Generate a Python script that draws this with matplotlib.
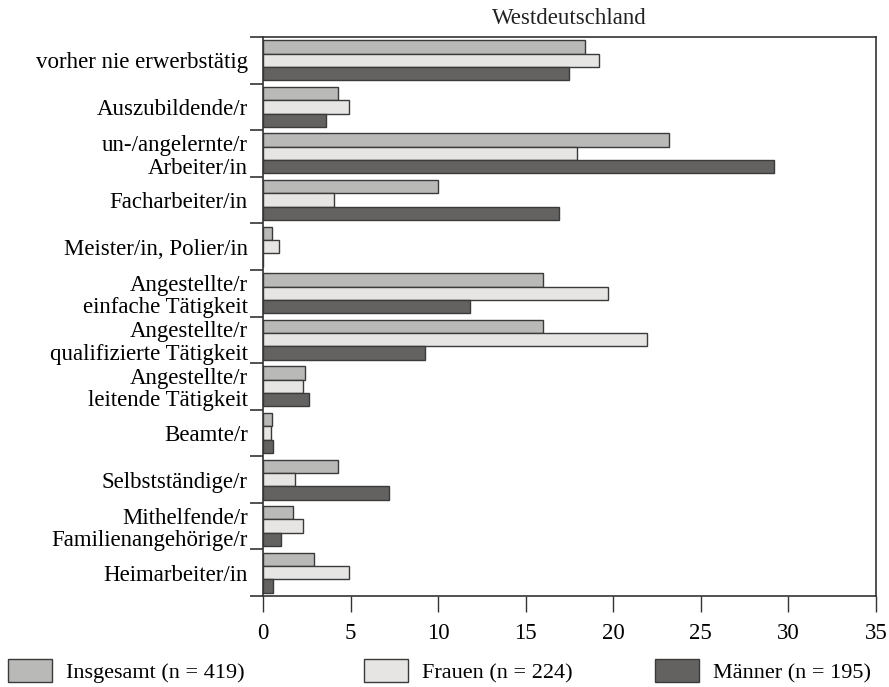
import numpy as np
import matplotlib
matplotlib.use('Agg')
import matplotlib.pyplot as plt
from matplotlib.patches import Patch

plt.rcParams['font.family'] = ['Liberation Serif', 'DejaVu Serif']

categories = [
    'vorher nie erwerbstätig',
    'Auszubildende/r',
    'un-/angelernte/r\nArbeiter/in',
    'Facharbeiter/in',
    'Meister/in, Polier/in',
    'Angestellte/r\neinfache Tätigkeit',
    'Angestellte/r\nqualifizierte Tätigkeit',
    'Angestellte/r\nleitende Tätigkeit',
    'Beamte/r',
    'Selbstständige/r',
    'Mithelfende/r\nFamilienangehörige/r',
    'Heimarbeiter/in',
]
insgesamt = [18.4, 4.3, 23.2, 10.0, 0.5, 16.0, 16.0, 2.4, 0.5, 4.3, 1.7, 2.9]
frauen    = [19.2, 4.9, 17.9, 4.05, 0.9, 19.7, 21.9, 2.3, 0.45, 1.8, 2.3, 4.9]
maenner   = [17.45, 3.6, 29.2, 16.9, 0.0, 11.8, 9.25, 2.6, 0.55, 7.2, 1.05, 0.55]

series = [
    ('Insgesamt (n = 419)', insgesamt, '#b9b9b7'),
    ('Frauen (n = 224)', frauen, '#e6e5e3'),
    ('Männer (n = 195)', maenner, '#646260'),
]

fig = plt.figure(figsize=(8.89, 6.87), dpi=100)
ax = fig.add_axes([263/889, 1 - 596/687, (876 - 263)/889, (596 - 37)/687])

y = np.arange(len(categories))
h = 0.286
for k, (name, vals, col) in enumerate(series):
    ax.barh(y + (k - 1) * h, vals, height=h, color=col,
            edgecolor='#3a3a3a', linewidth=1.0, label=name)

ax.set_ylim(len(categories) - 0.5, -0.5)
ax.set_xlim(0, 35)
ax.set_xticks(np.arange(0, 36, 5))
ax.tick_params(axis='x', direction='out', length=11.5, width=1, color='#333333',
               labelsize=16.5, pad=8)

ax.set_yticks(y)
ax.set_yticklabels(categories, fontsize=16.5, ha='right', multialignment='right',
                   linespacing=1.1)
ax.tick_params(axis='y', which='major', length=0, pad=11)
ax.set_yticks(np.arange(-0.5, len(categories)), minor=True)
ax.tick_params(axis='y', which='minor', direction='out', length=9.4, width=1.2,
               color='#333333')

for s in ax.spines.values():
    s.set_color('#333333')
    s.set_linewidth(1.2)

ax.set_title('Westdeutschland', fontsize=16.5, pad=9, color='#222222')

legend_x = [8/889, 364/889, 655/889]
for (name, vals, col), lx in zip(series, legend_x):
    handle = Patch(facecolor=col, edgecolor='#3a3a3a', linewidth=1.0)
    fig.legend([handle], [name], loc='lower left',
               bbox_to_anchor=(lx, 4/687), bbox_transform=fig.transFigure,
               frameon=False, fontsize=16, handlelength=2.0, handleheight=1.26,
               handletextpad=0.63, borderpad=0, borderaxespad=0)

fig.savefig('out.png', dpi=100)
